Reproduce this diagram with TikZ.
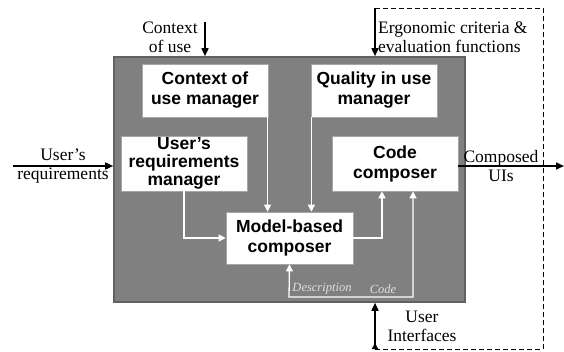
\documentclass[tikz,border=0pt]{standalone}
\usepackage{fontspec}
\setmainfont{Liberation Serif}
\setsansfont{Liberation Sans}
\usetikzlibrary{arrows.meta}

\tikzset{
  core/.style={draw=black!62, line width=1.6pt, fill=black!50, minimum width=351pt, minimum height=245pt, inner sep=0pt},
  unit/.style={draw=black!35, line width=0.6pt, fill=white, minimum width=126pt, minimum height=53pt, inner sep=0pt, align=center,
    font=\sffamily\bfseries\fontsize{17.5}{20}\selectfont},
  wire/.style={white, line width=1.3pt, -{Triangle[length=7pt,width=7pt]}},
  flow/.style={black, line width=1.6pt, -{Triangle[length=8pt,width=7pt]}},
  loop/.style={black, line width=0.9pt, dash pattern=on 5pt off 3pt},
  label/.style={align=center, inner sep=0pt, font=\fontsize{17.5}{19}\selectfont},
  tag/.style={inner sep=0pt, text=black!12, font=\itshape\fontsize{12.5}{14}\selectfont}
}

\begin{document}
\begin{tikzpicture}[x=1pt,y=-1pt]
  \useasboundingbox (0,0) rectangle (564,352);

  % main block
  \node[core] (frame) at (289.5,179.5) {};

  % managers and composers
  \node[unit] (ctx)   at (205,90.5)    {Context of\\use manager};
  \node[unit] (qual)  at (374,90.5)    {Quality in use\\manager};
  \node[unit, minimum height=55pt, font=\sffamily\bfseries\fontsize{17.5}{18}\selectfont] (req)  at (184,163.5) {User's\\requirements\\manager};
  \node[unit, minimum height=55pt] (code) at (395,163.5) {Code\\composer};
  \node[unit, minimum width=127pt, minimum height=52pt] (model) at (289.5,238) {Model-based\\composer};

  % inner links
  \draw[wire] ([xshift=-0.7pt]ctx.south east) -- ([xshift=-0.7pt]ctx.south east |- model.north);
  \draw[wire] ([xshift=0.7pt]qual.south west) -- ([xshift=0.7pt]qual.south west |- model.north);
  \draw[wire] (req.south) |- (model.west);
  \draw[wire] (model.east) -| ([xshift=-13pt]code.south);
  \coordinate (back) at (289,297);
  \draw[wire, {Triangle[length=7pt,width=7pt]}-{Triangle[length=7pt,width=7pt]}]
    (model.south) -- (back) -| ([xshift=18pt]code.south);
  \node[tag] (desc) at (322,289) {Description};
  \node[tag] (codetag) at (383,289) {Code};

  % inputs and outputs
  \coordinate (cin) at (205,22);
  \draw[flow] (cin) -- (cin |- frame.north);
  \node[label] (cinl) at (170,37) {Context\\of use};

  \coordinate (top) at (375,8);
  \coordinate (bot) at (375,349);
  \draw[flow] (top) -- (top |- frame.north);
  \node[label, align=left, anchor=west] (ergo) at (378,37) {Ergonomic criteria \&\\evaluation functions};

  \coordinate (rin) at (13,166);
  \draw[flow] (rin) -- (rin -| frame.west);
  \node[label] (rinl) at (63,166) {User's\\requirements};

  \coordinate (uout) at (564,166);
  \draw[flow] (code.east |- uout) -- (uout);
  \node[label] (uoutl) at (501,166) {Composed\\UIs};

  \draw[flow, {Triangle[reversed,length=6pt,width=6pt]}-{Triangle[length=8pt,width=7pt]}] (bot) -- (bot |- frame.south);
  \node[label] (uil) at (422,326) {User\\Interfaces};

  % evaluation loop
  \draw[loop] (top) -- (543,8) -- (543,349) -- (bot);
\end{tikzpicture}
\end{document}
